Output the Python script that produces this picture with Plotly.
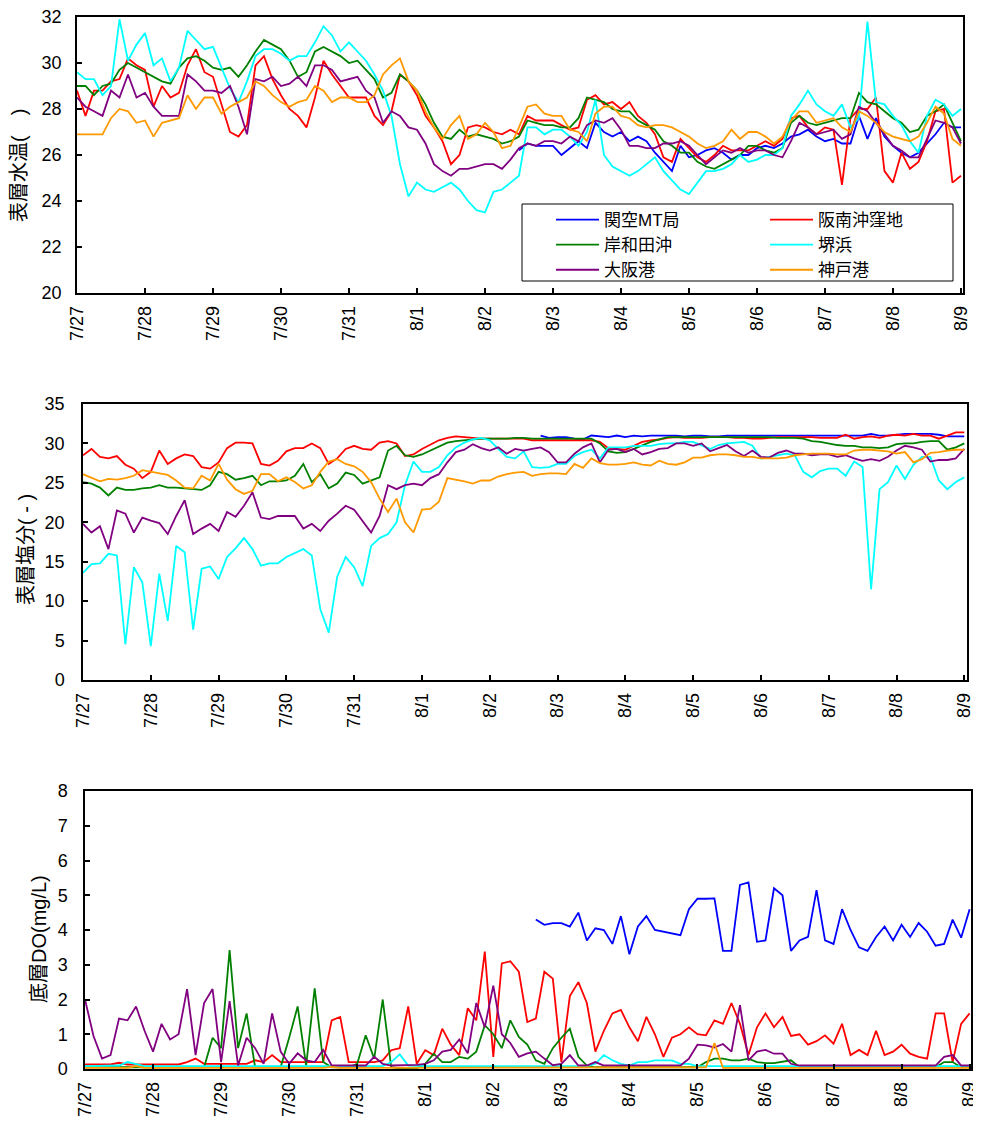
import pandas as pd
import plotly.graph_objects as go

# ---------------- categories / labels ----------------
stations = ["関空MT局", "阪南沖窪地", "岸和田沖", "堺浜", "大阪港", "神戸港"]
colors = ["#0000FF", "#FF0000", "#008000", "#00FFFF", "#800080", "#FF9900"]
times = pd.date_range("2022-07-27 00:00", periods=105, freq="3h")
tick_dates = pd.date_range("2022-07-27", periods=14, freq="D")
tick_labels = ["7/27", "7/28", "7/29", "7/30", "7/31", "8/1", "8/2",
               "8/3", "8/4", "8/5", "8/6", "8/7", "8/8", "8/9"]

# ---------------- 表層水温 ----------------
kix_wt = [None] * 52 + [
    26.2, 26.5, 26.4, 26.4, 26.4, 26.0, 26.3, 26.6, 26.3, 27.4,
    27.0, 26.8, 27.0, 26.6, 26.8, 26.6, 26.1, 25.7, 25.3, 26.4,
    25.9, 26.0, 26.2, 26.3, 26.1, 25.8, 26.0, 26.0, 26.3, 26.4,
    26.3, 26.5, 26.8, 26.9, 27.1, 26.8, 26.6, 26.7, 26.5, 26.5,
    27.7, 26.7, 27.6, 26.8, 26.4, 26.1, 25.9, 26.1, 26.5, 26.9,
    27.4, 27.2, 27.2]
hannan_wt = [
    28.8, 27.7, 28.8, 28.8, 29.2, 29.3, 30.2, 29.9, 29.7, 28.1,
    29.0, 28.5, 28.7, 29.9, 30.6, 29.6, 29.4, 28.2, 27.0, 26.8,
    27.3, 29.9, 30.3, 29.3, 28.6, 28.0, 27.7, 27.2, 28.5, 30.1,
    29.5, 29.0, 28.5, 28.5, 28.5, 27.7, 27.3, 27.9, 29.5, 29.2,
    28.6, 27.7, 27.2, 26.6, 25.6, 26.0, 27.2, 27.3, 27.2, 27.0,
    26.9, 27.1, 26.9,
    27.7, 27.5, 27.5, 27.5, 27.3, 27.1, 27.2, 28.4, 28.6, 28.2,
    28.3, 28.0, 28.3, 27.7, 27.4, 26.9, 25.9, 25.7, 26.7, 26.3,
    25.9, 25.7, 26.0, 26.4, 26.2, 26.2, 26.2, 26.4, 26.6, 26.4,
    26.7, 27.6, 27.7, 27.2, 26.9, 27.2, 27.1, 24.7, 27.6, 28.0,
    28.0, 28.5, 25.3, 24.8, 26.1, 25.4, 25.7, 26.6, 27.9, 28.0,
    24.8, 25.1]
kishiwada_wt = [
    29.0, 29.0, 28.6, 29.0, 29.1, 29.7, 30.0, 29.8, 29.6, 29.4,
    29.2, 29.1, 29.8, 30.2, 30.3, 30.1, 29.8, 29.7, 29.8, 29.4,
    29.9, 30.5, 31.0, 30.8, 30.6, 30.1, 29.4, 29.6, 30.5, 30.7,
    30.5, 30.3, 30.0, 30.1, 29.7, 29.3, 28.5, 28.7, 29.5, 29.2,
    28.8, 28.2, 27.4, 26.8, 26.7, 27.1, 26.8, 26.9, 26.8, 26.7,
    26.5, 26.6, 26.8,
    27.5, 27.4, 27.3, 27.3, 27.2, 27.2, 27.6, 28.5, 28.4, 28.3,
    28.0, 27.9, 27.9, 27.5, 27.3, 27.1, 26.6, 26.4, 26.1, 26.1,
    25.7, 25.5, 25.4, 25.6, 25.8, 26.0, 26.4, 26.4, 26.2, 26.1,
    26.3, 27.4, 27.7, 27.4, 27.3, 27.4, 27.5, 27.6, 27.6, 28.7,
    28.3, 28.2, 27.9, 27.6, 27.4, 27.0, 27.1, 27.7, 27.9, 28.2,
    27.4, 26.6]
sakai_wt = [
    29.6, 29.3, 29.3, 28.6, 29.0, 31.9, 30.1, 30.8, 31.3, 29.9,
    30.2, 29.2, 29.8, 31.4, 31.0, 30.6, 30.7, 29.8, 28.9, 28.3,
    29.2, 30.3, 30.6, 30.6, 30.4, 30.1, 30.3, 30.3, 30.9, 31.6,
    31.2, 30.5, 30.9, 30.5, 30.1, 29.5, 28.8, 27.7, 25.6, 24.2,
    24.8, 24.5, 24.4, 24.6, 24.8, 24.5, 24.0, 23.6, 23.5, 24.4,
    24.5, 24.8, 25.1,
    27.2, 27.2, 26.9, 27.1, 27.1, 26.8, 26.4, 27.0, 28.4, 26.0,
    25.5, 25.3, 25.1, 25.3, 25.6, 25.9, 25.3, 24.9, 24.5, 24.3,
    24.8, 25.3, 25.3, 25.4, 25.6, 26.0, 25.7, 25.8, 26.0, 26.0,
    26.3, 27.7, 28.2, 28.8, 28.2, 27.9, 27.7, 28.2, 27.2, 27.6,
    31.8, 28.3, 28.2, 27.7, 27.3, 26.6, 26.1, 27.7, 28.4, 28.2,
    27.7, 28.0]
osaka_wt = [
    28.5, 28.1, 27.9, 27.7, 28.8, 28.5, 29.5, 28.5, 28.7, 28.1,
    27.7, 27.7, 27.7, 29.5, 29.2, 28.8, 28.8, 28.7, 29.0, 28.1,
    26.9, 29.3, 29.2, 29.4, 29.0, 29.1, 29.4, 29.0, 29.9, 29.9,
    29.7, 29.2, 29.3, 29.4, 28.8, 28.5, 27.4, 27.9, 27.7, 27.2,
    27.1, 26.5, 25.6, 25.3, 25.1, 25.4, 25.4, 25.5, 25.6, 25.6,
    25.4, 25.8, 26.3,
    26.5, 26.4, 26.6, 26.6, 26.5, 26.8, 26.6, 27.3, 27.5, 27.4,
    27.6, 27.1, 26.4, 26.4, 26.3, 26.3, 26.5, 26.5, 26.6, 26.4,
    26.0, 25.6, 25.9, 26.2, 26.1, 26.3, 26.1, 26.2, 26.2, 26.0,
    25.9, 26.6, 27.4, 27.2, 26.9, 27.0, 27.1, 26.7, 26.9, 28.1,
    27.9, 27.4, 26.9, 26.4, 26.2, 25.9, 25.9, 26.7, 27.5, 27.4,
    27.2, 26.5]
kobe_wt = [
    26.9, 26.9, 26.9, 26.9, 27.6, 28.0, 27.9, 27.4, 27.5, 26.8,
    27.4, 27.5, 27.6, 28.6, 28.0, 28.5, 28.5, 27.8, 28.1, 28.3,
    28.5, 29.2, 29.0, 28.6, 28.3, 28.1, 28.3, 28.4, 29.0, 28.8,
    28.3, 28.5, 28.5, 28.3, 28.3, 28.6, 29.5, 29.9, 30.2, 29.2,
    28.8, 27.9, 27.2, 26.7, 27.3, 27.7, 26.7, 26.9, 27.4, 27.0,
    26.3, 26.4, 27.2,
    28.1, 28.2, 27.8, 27.7, 27.7, 27.1, 27.0, 26.6, 27.8, 28.1,
    28.1, 27.7, 27.6, 27.3, 27.2, 27.3, 27.3, 27.2, 27.0, 26.8,
    26.5, 26.3, 26.4, 26.6, 27.1, 26.7, 27.0, 27.0, 26.8, 26.5,
    26.8, 27.5, 27.9, 27.9, 27.4, 27.5, 27.6, 27.2, 27.0, 27.9,
    27.7, 27.4, 27.0, 26.8, 26.7, 26.6, 26.8, 27.4, 28.1, 27.8,
    26.7, 26.4]

# ---------------- 表層塩分 ----------------
kix_sal = [None] * 54 + [
    31.0, 30.7, 30.8, 30.8, 30.6, 30.5, 31.0, 30.9, 30.8, 31.0,
    30.8, 31.0, 30.9, 31.0, 31.0, 31.0, 31.0, 30.9, 31.0, 31.0,
    30.9, 30.9, 31.0, 31.0, 31.0, 31.0, 31.0, 31.0, 31.0, 31.0,
    31.0, 31.0, 31.0, 31.0, 31.0, 31.0, 31.0, 31.0, 31.0, 31.2,
    31.0, 31.0, 31.1, 31.2, 31.2, 31.2, 31.2, 31.1, 30.9, 30.9,
    30.9]
hannan_sal = [
    28.5, 29.3, 28.3, 28.1, 28.4, 27.3, 26.8, 25.6, 26.4, 29.1,
    27.4, 28.1, 28.6, 28.4, 27.0, 26.8, 27.6, 29.4, 30.1, 30.1,
    30.0, 27.4, 27.2, 27.8, 29.0, 29.4, 29.4, 30.0, 29.4, 27.4,
    28.1, 29.3, 29.7, 29.3, 29.2, 30.1, 30.3, 30.0, 28.4, 28.6,
    29.3, 29.9, 30.4, 30.7, 30.9, 30.8, 30.7, 30.6, 30.6, 30.6,
    30.6, 30.6, 30.6,
    30.4, 30.4, 30.4, 30.4, 30.4, 30.4, 30.4, 30.4,
    30.2, 29.4, 29.3, 29.2, 29.7, 30.2, 30.4, 30.5, 30.7, 30.8,
    30.7, 30.7, 30.7, 30.8, 30.8, 30.8, 30.7, 30.7, 30.6, 30.6,
    30.7, 30.8, 30.8, 30.8, 30.8, 30.8, 30.7, 30.7, 30.7, 31.1,
    30.6, 30.8, 30.9, 30.7, 31.0, 31.1, 31.0, 31.2, 31.0, 31.0,
    30.6, 31.0, 31.4, 31.4]
kishiwada_sal = [
    25.1, 24.9, 24.4, 23.4, 24.4, 24.1, 24.1, 24.3, 24.4, 24.7,
    24.4, 24.4, 24.3, 24.2, 24.1, 24.7, 26.4, 26.1, 25.4, 25.6,
    25.9, 24.7, 25.2, 25.2, 25.3, 25.9, 27.4, 25.1, 26.1, 24.3,
    24.9, 26.3, 26.0, 24.9, 25.3, 25.7, 29.1, 29.7, 28.5, 28.3,
    28.6, 29.1, 29.7, 30.1, 30.3, 30.4, 30.5, 30.6, 30.6, 30.6,
    30.6, 30.7, 30.7,
    30.6, 30.6, 30.6, 30.6, 30.6, 30.6, 30.6, 30.6,
    30.0, 29.0, 28.8, 28.9, 29.3, 29.8, 30.2, 30.5, 30.8, 30.8,
    30.8, 30.8, 30.8, 30.8, 30.8, 30.8, 30.8, 30.8, 30.8, 30.8,
    30.8, 30.7, 30.7, 30.7, 30.6, 30.3, 30.2, 30.0, 29.8, 29.7,
    29.7, 29.5, 29.5, 29.4, 29.5, 29.9, 30.0, 30.0, 30.2, 30.3,
    30.3, 29.2, 29.5, 30.0]
sakai_sal = [
    13.6, 14.7, 14.8, 16.0, 15.8, 4.5, 14.3, 12.4, 4.3, 13.5,
    7.5, 17.0, 16.2, 6.4, 14.1, 14.4, 12.8, 15.6, 16.7, 18.0,
    16.6, 14.5, 14.8, 14.8, 15.6, 16.1, 16.6, 15.8, 9.0, 6.0,
    13.1, 15.6, 14.3, 11.9, 17.0, 18.0, 18.5, 20.0, 24.7, 27.7,
    26.4, 26.4, 27.0, 28.5, 29.5, 30.1, 30.5, 30.7, 30.4, 29.3,
    28.3, 28.1, 29.0,
    27.0, 26.9, 27.0, 27.4, 27.4, 28.4, 28.9, 29.2, 28.1, 29.5,
    29.5, 29.5, 29.7, 29.7, 29.7, 29.9, 30.0, 30.0, 30.2, 30.2,
    29.7, 29.3, 29.8, 30.0, 30.1, 30.2, 29.7, 28.1, 28.3, 28.5,
    28.7, 28.5, 26.4, 25.7, 26.5, 26.8, 26.8, 25.9, 27.7, 27.0,
    11.5, 24.2, 25.1, 27.2, 25.5, 27.3, 28.3, 28.3, 25.3, 24.2,
    25.1, 25.7]
osaka_sal = [
    19.8, 18.7, 19.5, 16.6, 21.5, 21.1, 18.7, 20.6, 20.2, 19.9,
    18.5, 20.8, 22.8, 18.5, 19.2, 19.8, 18.9, 21.3, 20.7, 22.1,
    23.8, 20.6, 20.4, 20.8, 20.8, 20.8, 19.2, 19.8, 18.9, 20.2,
    21.1, 22.1, 21.6, 20.2, 18.7, 20.8, 24.7, 24.2, 24.7, 24.9,
    24.7, 25.6, 26.1, 27.6, 28.9, 29.2, 29.9, 29.4, 29.1, 29.5,
    28.7, 29.3, 29.1,
    29.3, 29.5, 28.9, 27.6, 27.6, 28.7, 29.5, 30.0, 27.6, 29.2,
    29.3, 28.9, 29.3, 28.6, 28.9, 29.3, 29.4, 30.0, 30.0, 29.7,
    30.0, 29.0, 29.4, 29.8, 29.0, 28.4, 29.1, 28.3, 28.2, 28.8,
    29.1, 28.7, 28.7, 28.5, 28.6, 28.6, 28.3, 28.5, 28.1, 27.8,
    28.0, 27.8, 28.3, 29.1, 29.7, 29.5, 29.2, 27.7, 27.9, 27.9,
    28.1, 29.3]
kobe_sal = [
    26.1, 25.7, 25.2, 25.5, 25.4, 25.6, 25.9, 26.6, 26.4, 26.2,
    26.0, 25.3, 24.4, 24.3, 25.9, 25.3, 27.4, 25.4, 24.2, 23.6,
    24.0, 26.1, 26.1, 25.2, 25.7, 25.1, 24.3, 24.7, 26.4, 27.7,
    28.0, 27.4, 27.1, 26.4, 25.1, 23.0, 21.3, 23.0, 20.0, 18.7,
    21.6, 21.7, 22.6, 25.6, 25.4, 25.2, 24.9, 25.3, 25.3, 25.8,
    26.1, 26.3, 26.4,
    25.9, 26.1, 26.2, 26.2, 26.1, 27.4, 26.9, 28.1, 27.5, 27.3,
    27.3, 27.4, 27.6, 27.3, 27.2, 27.8, 27.4, 27.3, 27.6, 28.2,
    28.2, 28.5, 28.6, 28.6, 28.5, 28.3, 28.3, 28.1, 28.1, 28.1,
    28.2, 28.5, 28.6, 28.7, 28.7, 28.7, 28.6, 28.6, 29.1, 29.2,
    29.2, 29.1, 29.0, 28.7, 28.9, 27.6, 28.0, 28.8, 28.9, 29.1,
    29.2, 29.2]

# ---------------- 底層DO ----------------
kix_do = [None] * 53 + [
    4.3, 4.15, 4.2, 4.2, 4.1, 4.5, 3.7, 4.05, 4.0, 3.6,
    4.4, 3.3, 4.1, 4.4, 4.0, 3.95, 3.9, 3.85, 4.6, 4.9,
    4.9, 4.91, 3.4, 3.4, 5.3, 5.37, 3.66, 3.7, 5.2, 5.0,
    3.4, 3.7, 3.8, 5.15, 3.7, 3.6, 4.6, 4.0, 3.5, 3.4,
    3.8, 4.1, 3.7, 4.15, 3.8, 4.2, 3.95, 3.55, 3.6, 4.3,
    3.78, 4.6]
hannan_do = [
    0.13, 0.13, 0.13, 0.13, 0.18, 0.13, 0.13, 0.13, 0.13, 0.13,
    0.13, 0.13, 0.2, 0.3, 0.15, 0.15, 0.15, 0.15, 0.15, 0.15,
    0.25, 0.2, 0.4, 0.2, 0.2, 0.2, 0.2, 0.2, 0.2, 1.4,
    1.5, 0.2, 0.2, 0.2, 0.2, 0.25, 0.54, 0.6, 1.8, 0.15,
    0.54, 0.4, 1.16, 0.7, 0.4, 1.75, 1.4, 3.38, 0.35, 3.04,
    3.1, 2.8, 1.35,
    1.45, 2.8, 2.6, 0.2, 2.1, 2.5, 1.9, 0.5, 1.1, 1.6,
    1.7, 1.2, 0.8, 1.5, 1.0, 0.35, 0.9, 1.0, 1.2, 1.0,
    0.97, 1.4, 1.3, 1.9, 1.3, 0.4, 1.2, 1.6, 1.2, 1.5,
    0.95, 1.0, 0.7, 0.8, 0.97, 0.73, 1.3, 0.4, 0.55, 0.4,
    1.1, 0.4, 0.5, 0.7, 0.44, 0.35, 0.3, 1.6, 1.6, 0.2,
    1.3, 1.6]
kishiwada_do = [
    0.05, 0.05, 0.05, 0.05, 0.05, 0.05, 0.05, 0.05, 0.05, 0.05,
    0.05, 0.05, 0.05, 0.05, 0.05, 0.9, 0.6, 3.42, 0.6, 1.6,
    0.05, 0.05, 0.05, 0.05, 0.9, 1.8, 0.1, 2.32, 0.2, 0.05,
    0.05, 0.05, 0.15, 0.97, 0.3, 2.0, 0.05, 0.02, 0.02, 0.02,
    0.15, 0.44, 0.2, 0.2, 0.35, 0.3, 0.5, 1.26, 1.0, 0.6,
    1.4, 0.92, 0.7,
    0.25, 0.15, 0.6, 0.9, 1.16, 0.35, 0.1,
    0.05, 0.05, 0.05, 0.05, 0.05, 0.05, 0.05, 0.05, 0.05, 0.05,
    0.05, 0.05, 0.05,
    0.2, 0.3, 0.3, 0.25, 0.25, 0.3, 0.2, 0.17, 0.17, 0.2, 0.25,
    0.05, 0.05, 0.05, 0.05, 0.05, 0.05, 0.05, 0.05, 0.05, 0.05,
    0.05, 0.05, 0.05, 0.05, 0.05, 0.05, 0.05,
    0.2, 0.2, 0.05, 0.05]
sakai_do = [
    0.08, 0.08, 0.08, 0.08, 0.1, 0.2, 0.15, 0.08, 0.08, 0.08,
    0.08, 0.08, 0.08, 0.08, 0.08, 0.08, 0.08, 0.08, 0.08, 0.08,
    0.08, 0.08, 0.08, 0.08, 0.08, 0.08, 0.08, 0.08, 0.08, 0.08,
    0.08, 0.08, 0.08, 0.08, 0.08, 0.08, 0.2, 0.42, 0.1, 0.08,
    0.08, 0.08, 0.08, 0.08, 0.08, 0.08, 0.08, 0.08, 0.08, 0.08,
    0.08, 0.08, 0.08, 0.08, 0.1, 0.08, 0.08, 0.08, 0.08, 0.08,
    0.15, 0.4, 0.25, 0.15, 0.1, 0.2, 0.2, 0.25, 0.25, 0.25,
    0.15, 0.15, 0.08, 0.08, 0.08, 0.08, 0.08, 0.08, 0.08, 0.08,
    0.08, 0.08, 0.08, 0.08, 0.08, 0.08, 0.08, 0.08, 0.08, 0.08,
    0.08, 0.08, 0.08, 0.08, 0.08, 0.08, 0.08, 0.08, 0.08, 0.08,
    0.08, 0.08, 0.08, 0.08, 0.08]
osaka_do = [
    2.0, 0.95, 0.3, 0.4, 1.45, 1.4, 1.8, 1.1, 0.5, 1.3,
    0.85, 1.0, 2.3, 0.4, 1.9, 2.3, 0.2, 1.95, 0.1, 0.9,
    0.6, 0.15, 1.6, 0.5, 0.15, 0.45, 0.25, 0.2, 0.55, 0.1,
    0.1, 0.1, 0.1, 0.1, 0.35, 0.15, 0.1, 0.1, 0.1, 0.12,
    0.15, 0.25, 0.5, 0.55, 0.85, 0.45, 1.9, 1.2, 2.4, 1.0,
    0.75, 0.35, 0.45,
    0.5, 0.3, 0.11, 0.15, 0.4, 0.1, 0.1, 0.2,
    0.1, 0.1, 0.1, 0.1, 0.1, 0.1, 0.1, 0.1, 0.1, 0.1,
    0.3, 0.7, 0.68, 0.62, 0.72, 0.5, 1.84, 0.25, 0.5, 0.55, 0.44, 0.44, 0.15,
    0.1, 0.1, 0.1, 0.1, 0.1, 0.1, 0.1, 0.1, 0.1, 0.1,
    0.1, 0.1, 0.1, 0.1, 0.1, 0.1, 0.1,
    0.35, 0.4, 0.1, 0.1]
kobe_do = [
    0.03, 0.03, 0.03, 0.03, 0.03, 0.03, 0.08, 0.03, 0.03, 0.03,
    0.03, 0.03, 0.03, 0.03, 0.03, 0.03, 0.03, 0.03, 0.03, 0.03,
    0.03, 0.03, 0.03, 0.03, 0.03, 0.03, 0.03, 0.03, 0.03, 0.06,
    0.03, 0.03, 0.03, 0.03, 0.03, 0.03, 0.03, 0.03, 0.03, 0.03,
    0.03, 0.03, 0.03, 0.03, 0.03, 0.03, 0.03, 0.03, 0.03, 0.03,
    0.03, 0.03, 0.03, 0.03, 0.03, 0.03, 0.03, 0.03, 0.03, 0.03,
    0.03, 0.03, 0.03, 0.03, 0.03, 0.03, 0.03, 0.03, 0.03, 0.03,
    0.03, 0.03, 0.03, 0.05, 0.75, 0.03, 0.03, 0.03, 0.03, 0.03,
    0.03, 0.03, 0.03, 0.03, 0.03, 0.03, 0.03, 0.03, 0.03, 0.03,
    0.03, 0.03, 0.03, 0.03, 0.03, 0.03, 0.03, 0.03, 0.03, 0.03,
    0.03, 0.03, 0.03, 0.03, 0.03]

# The page body has an 8 px default margin, so the figure is drawn 8 px
# smaller and all layout positions (in screen px) are shifted by OFF.
OFF = 8
W, H = 981 - OFF, 1127 - OFF
FONT = "Liberation Sans, Arial, Noto Sans CJK JP, sans-serif"


def fx(px):
    return (px - OFF) / W


def fy(py):
    return 1 - (py - OFF) / H


panels = [
    dict(series=[kix_wt, hannan_wt, kishiwada_wt, sakai_wt, osaka_wt, kobe_wt],
         xdom=(77, 963), ydom=(17, 293), yrange=[20, 32], dtick=2, span=13.03,
         title="表層水温(　)", tx=19, ty=166, standoff=10),
    dict(series=[kix_sal, hannan_sal, kishiwada_sal, sakai_sal, osaka_sal, kobe_sal],
         xdom=(83, 967), ydom=(404, 680), yrange=[0, 35], dtick=5, span=13.04,
         title="表層塩分( - )", tx=26, ty=550, standoff=13),
    dict(series=[kix_do, hannan_do, kishiwada_do, sakai_do, osaka_do, kobe_do],
         xdom=(85, 971), ydom=(791, 1069), yrange=[0, 8], dtick=1, span=13.02,
         title="底層DO(mg/L)", tx=39, ty=939, standoff=12),
]

fig = go.Figure()
layout = dict(width=W, height=H,
              margin=dict(l=0, r=0, t=0, b=0, pad=0, autoexpand=False),
              paper_bgcolor="white", plot_bgcolor="white",
              font=dict(family=FONT, size=18, color="black"),
              showlegend=True, annotations=[], shapes=[])

start = pd.Timestamp("2022-07-27 00:00")
for p_i, p in enumerate(panels):
    sfx = "" if p_i == 0 else str(p_i + 1)
    for s_i, vals in enumerate(p["series"]):
        fig.add_trace(go.Scatter(
            x=times, y=vals, mode="lines", name=stations[s_i],
            line=dict(color=colors[s_i], width=1.8),
            xaxis="x" + sfx, yaxis="y" + sfx,
            showlegend=(p_i == 0),
            legend=("legend" if s_i % 2 == 0 else "legend2"),
            connectgaps=False, hoverinfo="skip"))
    end = start + pd.Timedelta(days=p["span"])
    layout["xaxis" + sfx] = dict(
        domain=[fx(p["xdom"][0]), fx(p["xdom"][1])], anchor="y" + sfx,
        type="date", range=[start, end], automargin=False,
        tickvals=tick_dates, ticktext=tick_labels, tickangle=-90,
        ticks="inside", ticklen=5, tickwidth=1.5, tickcolor="black",
        showline=True, linecolor="black", linewidth=1.5, mirror=True,
        showgrid=False, zeroline=False, ticklabelstandoff=4,
        ticklabeloverflow="allow",
        tickfont=dict(size=18, family=FONT))
    layout["yaxis" + sfx] = dict(
        domain=[fy(p["ydom"][1]), fy(p["ydom"][0])], anchor="x" + sfx,
        range=p["yrange"], dtick=p["dtick"], tick0=0, automargin=False,
        ticks="inside", ticklen=5, tickwidth=1.5, tickcolor="black",
        showline=True, linecolor="black", linewidth=1.5, mirror=True,
        showgrid=False, zeroline=False, ticklabelstandoff=p["standoff"],
        ticklabeloverflow="allow",
        tickfont=dict(size=18, family=FONT))
    layout["annotations"].append(dict(
        text=p["title"], x=fx(p["tx"]), y=fy(p["ty"]),
        xref="paper", yref="paper", xanchor="center", yanchor="middle",
        textangle=-90, showarrow=False, font=dict(size=20, family=FONT)))

# legend frame
layout["shapes"].append(dict(
    type="rect", xref="paper", yref="paper", layer="above",
    x0=fx(522), x1=fx(953), y0=fy(281), y1=fy(204),
    line=dict(color="black", width=1), fillcolor="white"))

leg_common = dict(xanchor="left", yanchor="top", bgcolor="rgba(0,0,0,0)",
                  borderwidth=0, font=dict(size=17, family=FONT),
                  itemwidth=43, tracegroupgap=0, orientation="v")
layout["legend"] = dict(x=fx(551), y=fy(202), **leg_common)
layout["legend2"] = dict(x=fx(765), y=fy(202), **leg_common)

fig.update_layout(**layout)
fig.write_html("out.html")
